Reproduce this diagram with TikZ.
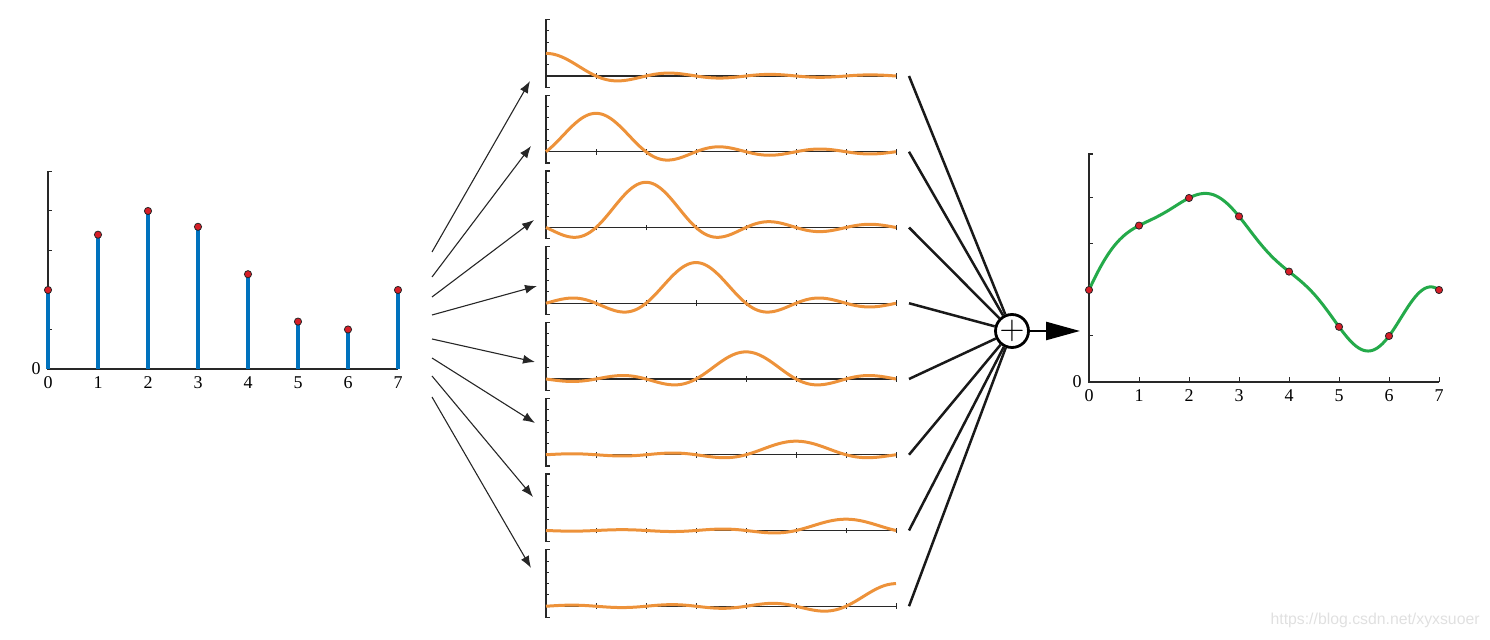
\documentclass[tikz,border=0pt]{standalone}
\usepackage{fontspec}
\setmainfont{Liberation Serif}
\newfontfamily\wmfont{Liberation Sans}
\usetikzlibrary{arrows.meta}

\definecolor{stemblue}{RGB}{0,114,189}
\definecolor{dotred}{RGB}{215,30,40}
\definecolor{sincorange}{RGB}{237,146,58}
\definecolor{recgreen}{RGB}{36,170,74}
\definecolor{axisgray}{RGB}{40,40,40}

\begin{document}
\begin{tikzpicture}[
  x=0.5pt, y=-0.5pt,
  font=\fontsize{9}{10.8}\selectfont,
  declare function={sinc(\u)=sin(180*\u)/(pi*\u);
    recon(\t)=2*sinc(\t)+3.4*sinc(\t-1)+4*sinc(\t-2)+3.6*sinc(\t-3)
      +2.4*sinc(\t-4)+1.2*sinc(\t-5)+sinc(\t-6)+2*sinc(\t-7);},
  axis/.style={draw=axisgray,line width=0.7pt},
  tick/.style={draw=axisgray,line width=0.5pt},
  stem/.style={stemblue,line width=1.6pt},
  sample/.style={circle,fill=dotred,draw=black!85,line width=0.4pt,inner sep=0pt,minimum size=3.6pt},
  sincline/.style={sincorange,line width=1.5pt,line join=round},
  recline/.style={recgreen,line width=1.5pt,line join=round},
  fan/.style={-{Latex[length=6pt,width=4.5pt]},line width=0.55pt,black!85},
  sumline/.style={line width=1.25pt,black!90},
  sumnode/.style={circle,draw,line width=1.4pt,fill=white,minimum size=14pt,inner sep=0pt,font=\fontsize{17}{17}\selectfont},
  outarrow/.style={-{Triangle[length=17pt,width=9pt]},line width=1.3pt},
  xlab/.style={below,inner sep=3.5pt},
  ylab/.style={left,inner sep=3.5pt},
]
\useasboundingbox (0,0) rectangle (1490,640);

% ---- Samples x[n] (left)
\begin{scope}[shift={(48,369)},x=25pt,y=19.75pt]
  \draw[axis] (0.07,5) -- (0,5) -- (0,0) -- (7,0);
  \foreach \y in {1,...,4} \draw[tick] (0,\y) -- (0.07,\y);
  \foreach \n in {1,...,7} \draw[tick] (\n,0) -- (\n,0.1);
  \node[ylab] (yzL) at (0,0) {0};
  \foreach \v [count=\n from 0] in {2,3.4,4,3.6,2.4,1.2,1,2} {
    \draw[stem] (\n,0) -- (\n,\v);
    \node[sample] (xL\n) at (\n,\v) {};
    \node[xlab] (nL\n) at (\n,0) {\n};
  }
\end{scope}

% ---- Shifted sinc kernels (middle)
\foreach \v [count=\k from 0] in {2,3.4,4,3.6,2.4,1.2,1,2} {
  \begin{scope}[shift={(546,{76+75.75*\k})},x=25pt,y=5.65pt]
    \draw[axis] (0.07,5) -- (0,5) -- (0,-1) -- (0.07,-1);
    \foreach \y in {1,...,4} \draw[tick] (0,\y) -- (0.06,\y);
    \draw[axis] (0,0) -- (7,0);
    \foreach \n in {1,...,7} \draw[tick] (\n,-0.25) -- (\n,0.25);
    \draw[sincline] (0,{\v*(\k==0)})
      -- plot[domain=0.0125:6.9875,samples=280] (\x,{\v*sinc(\x-\k)})
      -- (7,{\v*(\k==7)});
  \end{scope}
}

% ---- Fan-out arrows
\foreach \sy/\tx/\ty [count=\k] in {252/530/81, 277/531/146, 297/534/220, 315/537/286,
    339/535/362, 358/535/423, 376/533/497, 397/531/568} {
  \coordinate (fs\k) at (432,\sy);
  \coordinate (ft\k) at (\tx,\ty);
  \draw[fan] (fs\k) -- (ft\k);
}

% ---- Summation
\node[sumnode] (sum) at (1012,331) {$+$};
\foreach \k in {0,...,7} {
  \coordinate (pe\k) at (909,{76+75.75*\k});
  \draw[sumline] (pe\k) -- (sum);
}
\coordinate (outtip) at (1080,331);
\draw[outarrow] (sum) -- (outtip);

% ---- Reconstructed signal (right)
\begin{scope}[shift={(1089,382)},x=25pt,y=23pt]
  \draw[axis] (0.07,4.96) -- (0,4.96) -- (0,0) -- (7,0);
  \foreach \y in {1,...,4} \draw[tick] (0,\y) -- (0.07,\y);
  \foreach \n in {1,...,7} \draw[tick] (\n,0) -- (\n,0.1);
  \node[ylab] (yzR) at (0,0) {0};
  \draw[recline] (0,2)
    -- plot[domain=0.0125:6.9875,samples=280] (\x,{recon(\x)})
    -- (7,2);
  \foreach \v [count=\n from 0] in {2,3.4,4,3.6,2.4,1.2,1,2} {
    \node[sample] (xR\n) at (\n,\v) {};
    \node[xlab] (nR\n) at (\n,0) {\n};
  }
\end{scope}

% ---- Watermark
\node[font=\wmfont\fontsize{7.9}{8}\selectfont,text=black!12,anchor=east,inner sep=0pt] (wm) at (1480,620) {https://blog.csdn.net/xyxsuoer};

\end{tikzpicture}
\end{document}
